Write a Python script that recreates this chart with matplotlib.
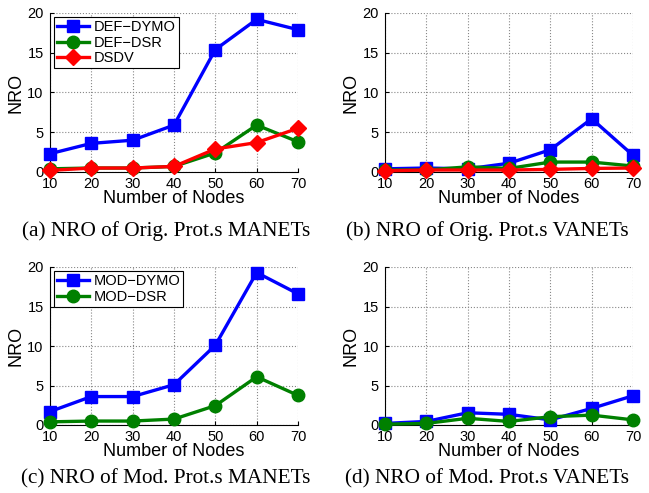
import matplotlib.pyplot as plt

nodes = [10, 20, 30, 40, 50, 60, 70]

# (a) original protocols, MANETs
a_dymo = [2.3, 3.6, 4.0, 5.9, 15.4, 19.2, 17.9]
a_dsr = [0.4, 0.5, 0.5, 0.7, 2.4, 5.9, 3.8]
a_dsdv = [0.2, 0.5, 0.5, 0.7, 2.9, 3.7, 5.5]

# (b) original protocols, VANETs
b_dymo = [0.4, 0.5, 0.4, 1.1, 2.8, 6.7, 2.1]
b_dsr = [0.25, 0.25, 0.65, 0.45, 1.25, 1.25, 0.75]
b_dsdv = [0.15, 0.25, 0.25, 0.25, 0.33, 0.45, 0.5]

# (c) modified protocols, MANETs
c_dymo = [1.7, 3.6, 3.6, 5.1, 10.1, 19.3, 16.6]
c_dsr = [0.4, 0.5, 0.5, 0.75, 2.45, 6.1, 3.75]

# (d) modified protocols, VANETs
d_dymo = [0.2, 0.45, 1.55, 1.35, 0.65, 2.1, 3.7]
d_dsr = [0.1, 0.2, 0.85, 0.45, 1.05, 1.25, 0.65]

captions = ['(a) NRO of Orig. Prot.s MANETs', '(b) NRO of Orig. Prot.s VANETs',
            '(c) NRO of Mod. Prot.s MANETs', '(d) NRO of Mod. Prot.s VANETs']

W, H = 649, 493
fig = plt.figure(figsize=(W / 100, H / 100), dpi=100)
plt.rcParams['font.family'] = ['Liberation Sans', 'DejaVu Sans']

BLUE = (0, 0, 1)
GREEN = (0, 0.5, 0)
RED = (1, 0, 0)


def make_axes(left, top, right, bottom):
    ax = fig.add_axes([left / W, 1 - bottom / H, (right - left) / W, (bottom - top) / H])
    ax.set_xlim(10, 70)
    ax.set_ylim(0, 20)
    ax.set_xticks(nodes)
    ax.set_yticks([0, 5, 10, 15, 20])
    ax.spines['top'].set_visible(False)
    ax.spines['right'].set_visible(False)
    ax.spines['left'].set_linewidth(0.8)
    ax.spines['bottom'].set_linewidth(0.8)
    ax.grid(True, linestyle=':', color='#888888', linewidth=0.8)
    ax.tick_params(direction='in', length=3, labelsize=10.5)
    ax.tick_params(axis='x', pad=3.5)
    ax.tick_params(axis='y', pad=4.5)
    ax.set_xlabel('Number of Nodes', fontsize=13, labelpad=-0.5)
    ax.set_ylabel('NRO', fontsize=13, labelpad=2)
    return ax


def draw(ax, y, color, marker, ms, label):
    ax.plot(nodes, y, color=color, marker=marker, markersize=ms, linewidth=2.4,
            markerfacecolor=color, markeredgecolor=color, label=label, clip_on=False, zorder=3)


ax_a = make_axes(50, 13, 298, 172)
draw(ax_a, a_dymo, BLUE, 's', 9, 'DEF\u2212DYMO')
draw(ax_a, a_dsr, GREEN, 'o', 9, 'DEF\u2212DSR')
draw(ax_a, a_dsdv, RED, 'D', 8.5, 'DSDV')

ax_b = make_axes(385, 13, 633, 172)
draw(ax_b, b_dymo, BLUE, 's', 9, 'DEF\u2212DYMO')
draw(ax_b, b_dsr, GREEN, 'o', 9, 'DEF\u2212DSR')
draw(ax_b, b_dsdv, RED, 'D', 8.5, 'DSDV')

ax_c = make_axes(50, 267, 298, 425)
draw(ax_c, c_dymo, BLUE, 's', 9, 'MOD\u2212DYMO')
draw(ax_c, c_dsr, GREEN, 'o', 9, 'MOD\u2212DSR')

ax_d = make_axes(385, 267, 633, 425)
draw(ax_d, d_dymo, BLUE, 's', 9, 'MOD\u2212DYMO')
draw(ax_d, d_dsr, GREEN, 'o', 9, 'MOD\u2212DSR')

for ax in (ax_a, ax_c):
    leg = ax.legend(loc='upper left', fontsize=10.5, frameon=True, fancybox=False,
                    borderaxespad=0.3, handlelength=2.2, handletextpad=0.3,
                    labelspacing=0.1, borderpad=0.2)
    leg.get_frame().set_edgecolor('black')
    leg.get_frame().set_linewidth(0.8)
    leg.get_frame().set_alpha(1)

cap_pos = [(166, 231), (487, 231), (166, 479), (487, 479)]
for (cx, cy), txt in zip(cap_pos, captions):
    fig.text(cx / W, 1 - cy / H, txt, ha='center', va='center', fontsize=15.3,
             family=['Liberation Serif', 'DejaVu Serif'])

fig.savefig('out.png', dpi=100)
